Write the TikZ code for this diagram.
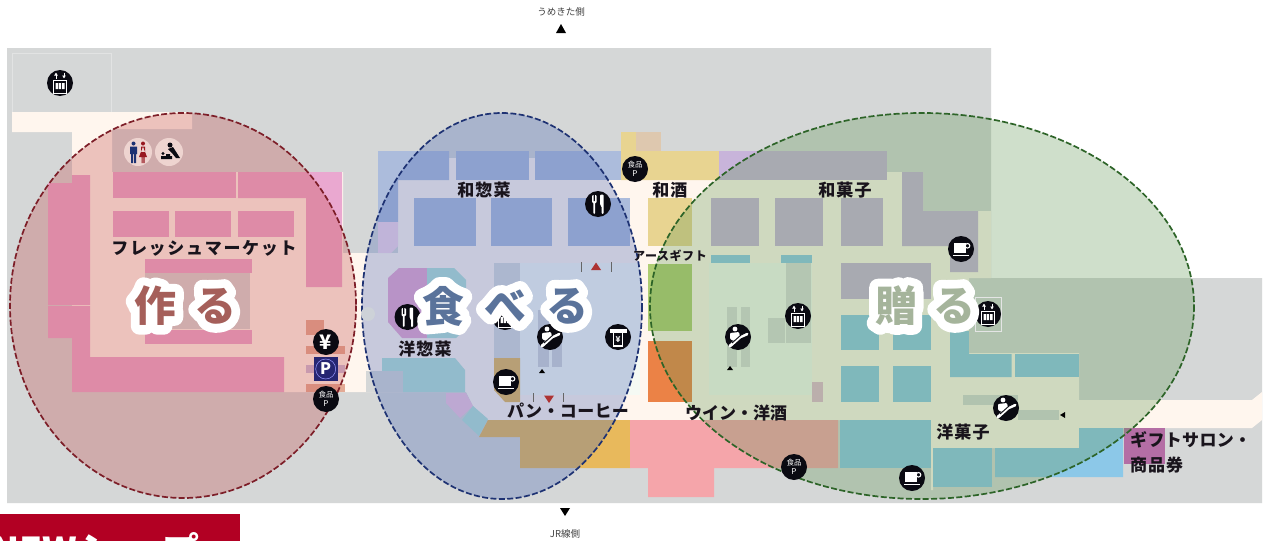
\documentclass[tikz,border=0pt]{standalone}
\usepackage{fontspec}
\usetikzlibrary{arrows.meta}
\setmainfont{Noto Sans CJK JP}
\definecolor{wallgray}{RGB}{213,215,215}
\definecolor{floorc}{RGB}{255,246,238}
\definecolor{mintc}{RGB}{245,250,244}
\definecolor{pinkc}{RGB}{234,168,208}
\definecolor{lilac}{RGB}{200,180,218}
\definecolor{blueb}{RGB}{172,188,220}
\definecolor{tealc}{RGB}{140,200,232}
\definecolor{tealb}{RGB}{180,225,215}
\definecolor{yellowc}{RGB}{232,212,145}
\definecolor{goldc}{RGB}{232,185,92}
\definecolor{tanc}{RGB}{222,200,175}
\definecolor{salmon}{RGB}{245,165,170}
\definecolor{limec}{RGB}{175,205,115}
\definecolor{orangec}{RGB}{235,130,70}
\definecolor{iconc}{RGB}{10,10,18}
\definecolor{inkc}{RGB}{25,20,28}
\definecolor{redo}{RGB}{195,75,75}
\definecolor{blueo}{RGB}{70,100,180}
\definecolor{greeno}{RGB}{97,150,85}
\definecolor{redl}{RGB}{125,30,40}
\definecolor{bluel}{RGB}{30,50,115}
\definecolor{greenl}{RGB}{45,100,40}
\definecolor{bannerc}{RGB}{178,0,35}
\definecolor{bigA}{RGB}{165,95,90}
\definecolor{bigB}{RGB}{90,115,155}
\definecolor{bigC}{RGB}{165,180,155}
\definecolor{restc}{RGB}{238,212,208}
\definecolor{giftc}{RGB}{180,110,165}
\tikzset{
  zone/.style={line width=1.7pt,dash pattern=on 6pt off 2.4pt,fill opacity=.3},
  lbl/.style={inner sep=0pt,text=inkc,font=\bfseries\fontsize{17}{20}\selectfont\addfontfeature{LetterSpace=#1}},
  lbl/.default=2,
  small/.style={inner sep=0pt,text=black!75,font=\fontsize{9.5}{11}\selectfont},
  bigh/.style={inner sep=0pt,text=white,font=\bfseries\fontsize{42}{50}\selectfont\addfontfeature{FakeBold=42}},
  bigt/.style={inner sep=0pt,font=\bfseries\fontsize{42}{50}\selectfont},
  pics/elev/.style={code={
    \fill[iconc] (0,0) circle (13);
    \draw[white,line width=.9pt] (-6.5,-3) rectangle (6.5,10);
    \fill[white] (-4.5,0) rectangle (-2,6) (-1.2,0) rectangle (1.2,6) (2,0) rectangle (4.5,6);
    \draw[white,line width=1pt,-{Latex[length=3pt,width=4pt]}] (-4,-4.5) -- (-4,-10.5);
    \draw[white,line width=1pt,-{Latex[length=3pt,width=4pt]}] (4,-10.5) -- (4,-4.5);
  }},
  pics/cutlery/.style={code={
    \fill[iconc] (0,0) circle (13);
    \fill[white,rounded corners=1pt] (-6,-9) rectangle (-1.5,-1) (-4.6,-2) rectangle (-3,10);
    \fill[iconc] (-4.4,-9) rectangle (-3.9,-3) (-3.6,-9) rectangle (-3.1,-3);
    \fill[white,rounded corners=1pt] (2,-9.5) -- (5.5,-9.5) -- (5.5,10) -- (3.5,10) -- (3.5,2) -- (2,1) -- cycle;
  }},
  pics/coffee/.style={code={
    \fill[iconc] (0,0) circle (13);
    \fill[white] (-7,-6) rectangle (4.5,3.5);
    \draw[white,line width=1.1pt] (6.5,-3.2) circle (2.3);
    \fill[white] (-8.5,6) rectangle (8,7.3);
  }},
  pics/escal/.style={code={
    \fill[iconc] (0,0) circle (13);
    \fill[white] (-3,-8) circle (2.4);
    \fill[white,rounded corners=1pt] (-8,-4) -- (1,-5) -- (2,0) -- (-4,4) -- (-8,2) -- cycle;
    \draw[white,line width=3pt,line cap=round] (-8,9) -- (2,0) -- (9,-3);
    \draw[iconc,line width=.9pt] (-6,6) -- (3,-2) -- (9,-5);
  }},
  pics/atm/.style={code={
    \fill[iconc] (0,0) circle (13);
    \fill[white] (-8.5,-8.5) rectangle (8.5,-4);
    \draw[white,line width=1.4pt] (-4.5,-4) -- (-4.5,9) -- (4.5,9) -- (4.5,-4);
    \node[inner sep=0pt,text=white,font=\bfseries\fontsize{8}{8}\selectfont] at (0,2.5) {¥};
  }},
  pics/foodp/.style={code={
    \fill[iconc] (0,0) circle (13);
    \node[inner sep=0pt,text=white!90,font=\fontsize{7.5}{8}\selectfont] at (0,-4) {食品};
    \node[inner sep=0pt,text=white!90,font=\fontsize{8}{8}\selectfont] at (0,5) {P};
  }},
}
\begin{document}
\begin{tikzpicture}[x=1pt,y=-1pt]
\useasboundingbox (0,0) rectangle (1267,541);
\fill[white] (0,0) rectangle (1267,541);
% building
\fill[wallgray] (7,48) -- (991,48) -- (991,278) -- (1262,278) -- (1262,503) -- (7,503) -- cycle;
\draw[white!30!wallgray,line width=.6pt] (12,53) rectangle (111,112);
% floors
\fill[floorc] (12,112) -- (192,112) -- (192,129) -- (112,129) -- (112,172) -- (343,172) -- (343,253) -- (398,253) -- (398,180) -- (449,180) -- (449,158) -- (456,158) -- (456,180) -- (529,180) -- (529,158) -- (535,158) -- (535,180) -- (887,180) -- (887,172) -- (923,172) -- (923,211) -- (991,211) -- (991,278) -- (969,278) -- (969,353) -- (1079,353) -- (1079,400) -- (1252,400) -- (1262,392) -- (1262,420) -- (1252,428) -- (1079,428) -- (1079,448) -- (933,448) -- (933,490) -- (931,490) -- (931,420) -- (488,420) -- (473,406) -- (466,392) -- (363,392) -- (284,392) -- (284,357) -- (72,357) -- (72,132) -- (12,132) -- cycle;
\fill[mintc] (520,263) rectangle (640,395);
\fill[mintc] (709,263) rectangle (812,395);
% market
\fill[pinkc] (48,183) -- (72,183) -- (72,175) -- (90,175) -- (90,305) -- (48,305) -- cycle;
\fill[pinkc] (48,306) -- (90,306) -- (90,357) -- (284,357) -- (284,392) -- (72,392) -- (72,338) -- (48,338) -- cycle;
\fill[pinkc] (112.5,172) rectangle (236,198);
\fill[pinkc] (238,172) -- (342,172) -- (342,287) -- (306,287) -- (306,198) -- (238,198) -- cycle;
\fill[pinkc] (112.5,211) rectangle (169,237);
\fill[pinkc] (175,211) rectangle (231,237);
\fill[pinkc] (237.5,211) rectangle (294,237);
\fill[pinkc] (145,259) rectangle (252,272.5);
\fill[pinkc] (145,330) rectangle (252,343.5);
\fill[wallgray] (145,272.5) rectangle (250,329);
\fill[tanc!85!red] (306,320) rectangle (324,335);
\fill[tanc!85!red] (306,346) rectangle (345,354);
\fill[lilac!80!wallgray] (306,365) rectangle (345,373);
\fill[tanc!85!red] (306,384) rectangle (345,392);
% souzai
\fill[blueb] (378,151) -- (449,151) -- (449,180) -- (398,180) -- (398,222) -- (378,222) -- cycle;
\fill[pinkc!45!white] (378,222) -- (398,222) -- (398,246) -- (391,253) -- (378,253) -- cycle;
\fill[blueb] (456,151) rectangle (529,180);
\fill[blueb] (535,151) rectangle (621,180);
\fill[blueb] (414,198) rectangle (476,246);
\fill[blueb] (491,198) rectangle (552,246);
\fill[blueb] (568,198) rectangle (629.5,246);
\fill[pinkc] (388,278) -- (399,268) -- (427,268) -- (427,338) -- (402,338) -- (388,322) -- cycle;
\fill[tealb] (427,268) -- (454,268) -- (466,280) -- (466,328) -- (456,338) -- (427,338) -- cycle;
\fill[tealb] (382,358) -- (455,358) -- (465,370) -- (465,392) -- (403,392) -- (403,371) -- (382,371) -- cycle;
\fill[wallgray] (366,371) rectangle (403,392);
\fill[pinkc!65!white] (446,393) -- (466,393) -- (473,406) -- (460,418) -- (446,403) -- cycle;
\fill[tealb] (473,406) -- (488,419) -- (479,436) -- (462,420) -- cycle;
\fill[wallgray!90!white] (494,263) rectangle (520,358);
\fill[goldc] (494,358) -- (520,358) -- (520,402) -- (505,402) -- (494,390) -- cycle;
\fill[wallgray!90!blueb] (538,310) rectangle (549,367);
\fill[wallgray!90!blueb] (552,310) rectangle (562,367);
\fill[goldc] (488,420) -- (630,420) -- (630,468) -- (520,468) -- (520,437) -- (479,437) -- cycle;
\fill[salmon] (630,420) -- (838,420) -- (838,468) -- (714,468) -- (714,497) -- (648,497) -- (648,468) -- (630,468) -- cycle;
% sake
\fill[yellowc] (621,132) -- (636,132) -- (636,151) -- (719,151) -- (719,180) -- (621,180) -- cycle;
\fill[tanc] (636,132) rectangle (661,151);
\fill[yellowc] (648,198) rectangle (692,246);
\fill[limec] (648,263.5) rectangle (692,331);
\fill[orangec] (648,341) rectangle (692,402);
% wagashi
\fill[lilac] (719,151) rectangle (887,180);
\fill[lilac] (711,198) rectangle (759,246);
\fill[lilac] (775,198) rectangle (823,246);
\fill[lilac] (841,198) rectangle (883,246);
\fill[lilac] (902,172) -- (923,172) -- (923,211) -- (978,211) -- (978,272) -- (950,272) -- (950,246) -- (902,246) -- cycle;
\fill[lilac] (841,263) rectangle (931,299);
\fill[tealc] (711,255) rectangle (750,263);
\fill[tealc] (781,255) rectangle (812,263);
\fill[wallgray!90!white] (786,263) rectangle (811,343);
\fill[wallgray!90!white] (768,318) rectangle (785,343);
\fill[wallgray!90!white] (727,307) rectangle (737,367);
\fill[wallgray!90!white] (741,307) rectangle (750,367);
\fill[pinkc!60!wallgray] (812,382) rectangle (823,402);
\fill[tealc] (841,315) rectangle (879,350);
\fill[tealc] (893,315) rectangle (931,350);
\fill[tealc] (841,366) rectangle (879,402);
\fill[tealc] (893,366) rectangle (931,402);
\fill[tealc] (950,331) -- (969,331) -- (969,354) -- (1011.5,354) -- (1011.5,377) -- (950,377) -- cycle;
\fill[tealc] (1015,354) rectangle (1079,377);
\fill[wallgray] (969,320) rectangle (981,352);
\fill[wallgray] (963,395) rectangle (1018,405);
\fill[wallgray] (1018,410) rectangle (1059,420);
\fill[tealc] (840,420) rectangle (931,468);
\fill[tealc] (933,448) rectangle (992,487);
\fill[tealc] (995,448) -- (1079,448) -- (1079,428) -- (1123,428) -- (1123,477) -- (995,477) -- cycle;
\fill[giftc] (1124,428) rectangle (1165,464);
% zones
\draw[zone,fill=redo,draw=redl,draw opacity=1] (183,305.5) ellipse (173 and 192.5);
\draw[zone,fill=blueo,draw=bluel,draw opacity=1] (502,306) ellipse (140 and 193);
\draw[zone,fill=greeno,draw=greenl,draw opacity=1] (922,306) ellipse (272 and 193);
\fill[wallgray!80!blueb] (368,314) circle (7);
% restroom
\fill[restc] (138,152) circle (14);
\fill[restc] (169,152) circle (14);
\fill[bluel] (133.5,143.5) circle (2) (130,146.5) rectangle (137,154) (131,154) rectangle (133,163) (134,154) rectangle (136,163);
\fill[redl!80!red] (143,143.5) circle (2) (141,146.5) rectangle (145,152) (143,146.5) -- (147,157) -- (139,157) -- cycle (141.5,157) rectangle (142.7,163) (143.3,157) rectangle (144.5,163);
\fill[iconc] (170,145) circle (2.5);
\fill[iconc] (168,149) -- (173,147) -- (180,158) -- (176,158) -- (172,153) -- cycle;
\fill[iconc] (161,156) rectangle (172,159) (163,153.5) circle (1.6) (166,154) rectangle (170,156);
% icons
\pic at (60,83) {elev};
\pic at (505,317) {elev};
\pic at (798,316) {elev};
\draw[white!35!wallgray,line width=.5pt] (975,297) rectangle (1001,331);
\pic at (988,314) {elev};
\pic at (407.5,317) {cutlery};
\pic at (598,204) {cutlery};
\pic at (961,249) {coffee};
\pic at (506,382) {coffee};
\pic at (912,478) {coffee};
\pic at (550,337) {escal};
\pic at (738,337) {escal};
\pic at (1006,408) {escal};
\pic at (618,337) {atm};
\pic at (326,399) {foodp};
\pic at (635,169) {foodp};
\pic at (794,467) {foodp};
\fill[iconc] (326,342) circle (13);
\node[inner sep=0pt,text=white,font=\bfseries\fontsize{20}{20}\selectfont] (yen) at (326,342) {¥};
\fill[blue!35!black!85!white] (314,357) rectangle (337.5,381);
\draw[white!60!blue,line width=.5pt] (325.7,369) circle (10);
\node[inner sep=0pt,text=white,font=\bfseries\fontsize{16}{16}\selectfont] (park) at (325.7,369) {P};
% markers
\fill[red!60!black!80!white] (591,270) -- (601,270) -- (596,262.5) -- cycle;
\draw[black!60,line width=.5pt] (581,262) -- (581,272) (611,262) -- (611,272);
\fill[red!60!black!80!white] (544,395.5) -- (554,395.5) -- (549,403) -- cycle;
\draw[black!60,line width=.5pt] (533,393) -- (533,402) (563,393) -- (563,402);
\fill[black] (539,373) -- (545,373) -- (542,369) -- cycle;
\fill[black] (727,370) -- (733,370) -- (730,366) -- cycle;
\fill[black] (1060,415) -- (1065,412) -- (1065,418) -- cycle;
% labels
\node[lbl=10] (fresh) at (204,248) {フレッシュマーケット};
\node[lbl=6] (wasozai) at (484,190) {和惣菜};
\node[lbl=6] (wasake) at (670,190) {和酒};
\node[lbl=6] (wagashi) at (845,190) {和菓子};
\node[inner sep=0pt,text=inkc,font=\bfseries\fontsize{12}{14}\selectfont\addfontfeature{LetterSpace=5}] (earth) at (670,256) {アースギフト};
\node[lbl=6] (yosozai) at (425,349) {洋惣菜};
\node[lbl=2] (pan) at (568,411) {パン・コーヒー};
\node[lbl=0] (wine) at (736,413) {ウイン・洋酒};
\node[lbl=6] (yogashi) at (963,432) {洋菓子};
\node[lbl=2,anchor=west] (gift) at (1130,440) {ギフトサロン・};
\node[lbl=6,anchor=west] (shohin) at (1130,465) {商品券};
% big words
\begin{scope}[line join=round,line cap=round]
\pgfsetroundjoin\pgfsetroundcap
\foreach \i/\x/\c in {a/155/作,b/215/る,c/443/食,d/505/べ,e/567/る,f/896/贈,g/954/る}
  \node[bigh] (h\i) at (\x,306) {\c};
\end{scope}
\foreach \i/\x/\c/\k in {a/155/作/bigA,b/215/る/bigA,c/443/食/bigB,d/505/べ/bigB,e/567/る/bigB,f/896/贈/bigC,g/954/る/bigC}
  \node[bigt,text=\k] (t\i) at (\x,306) {\c};
% ends
\node[small] (north) at (561,12) {うめきた側};
\fill[black] (556,33) -- (566,33) -- (561,24) -- cycle;
\fill[black] (560,508) -- (570,508) -- (565,516) -- cycle;
\node[small] (south) at (565,534) {JR線側};
% banner
\fill[bannerc] (0,514) rectangle (240,541);
\begin{scope}
\clip (0,514) rectangle (240,541);
\node[anchor=base west,inner sep=0pt,text=white,font=\bfseries\fontsize{37}{40}\selectfont] (banner) at (-9,564.5) {NEW\addfontfeature{LetterSpace=-23}ショップ};
\end{scope}
\end{tikzpicture}
\end{document}
